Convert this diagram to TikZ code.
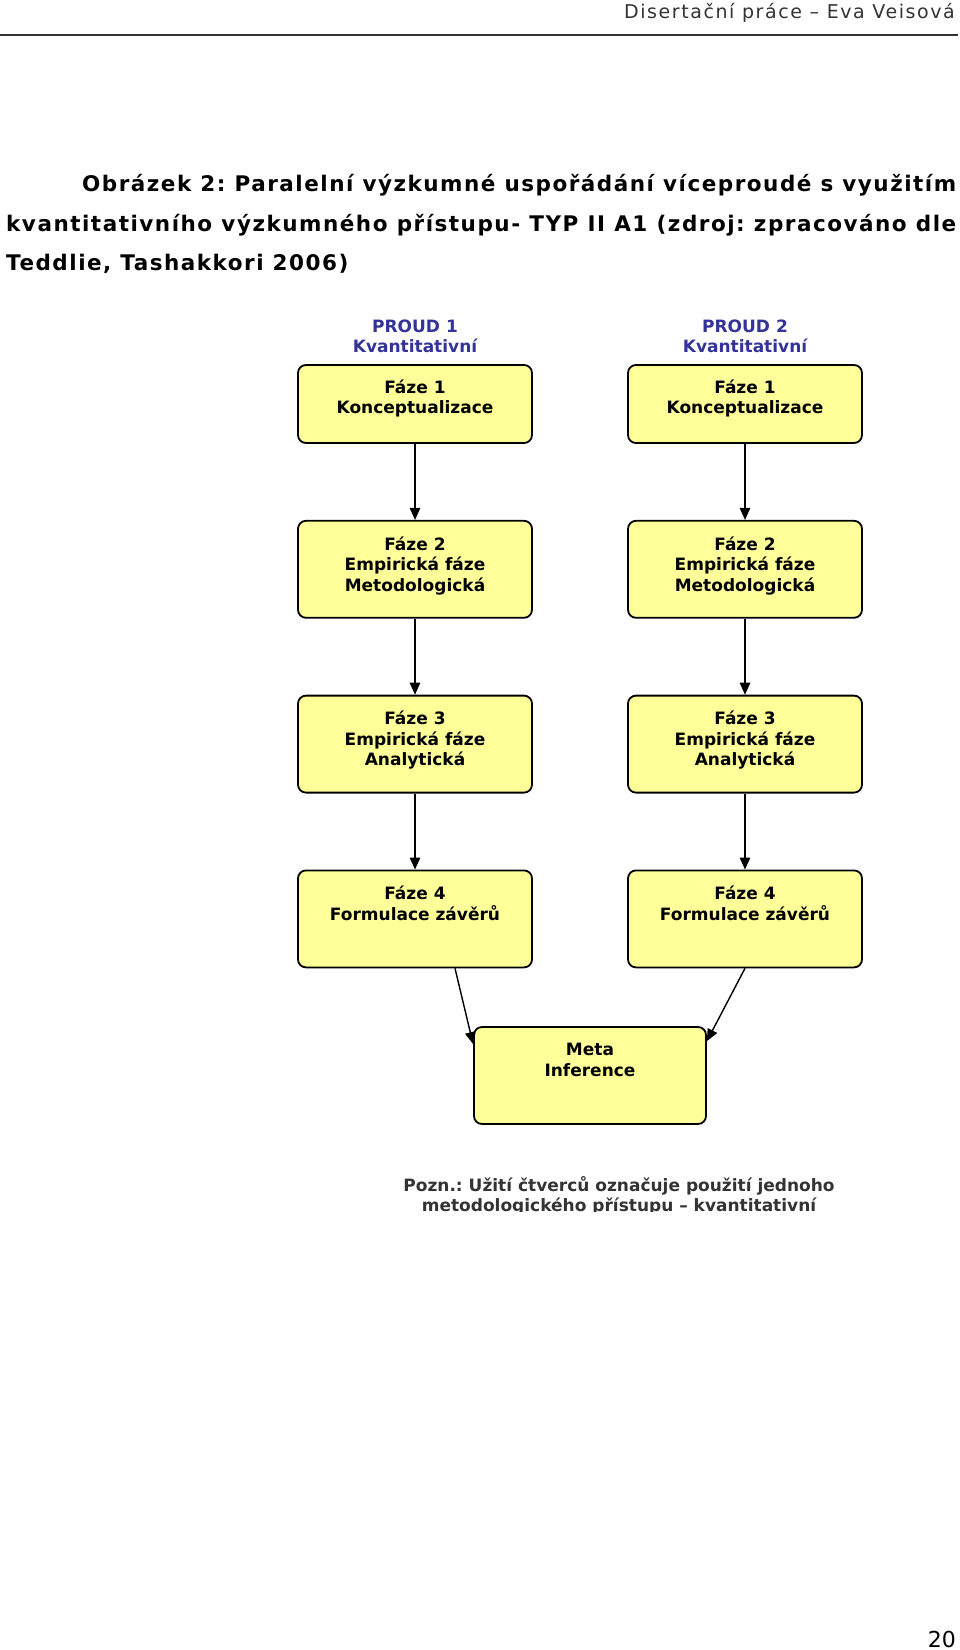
\documentclass[tikz,border=0pt]{standalone}
\usepackage{fontspec}
\setmainfont{DejaVu Sans}
\usetikzlibrary{shapes.geometric, arrows.meta, positioning}
\definecolor{boxyellow}{HTML}{FFFF99}
\definecolor{proudblue}{HTML}{333399}
\definecolor{textgray}{HTML}{333333}
\tikzstyle{faze} = [rectangle, rounded corners=8pt, minimum width=234pt, minimum height=97pt, text depth=11pt, align=center, draw=black, line width=1.8pt, fill=boxyellow, font=\bfseries\fontsize{17}{20.5}\selectfont]
\tikzstyle{dvoradek} = [text depth=31.5pt]
\tikzstyle{proud} = [align=center, text=proudblue, font=\bfseries\fontsize{17}{20}\selectfont]
\tikzstyle{titleline} = [anchor=base west, inner sep=0pt, font=\bfseries\fontsize{21.5}{24}\selectfont\addfontfeatures{LetterSpace=7}]
\tikzstyle{arrow} = [line width=1.4pt, -{Triangle[length=12pt,width=10.5pt]}]

\begin{document}
\frenchspacing
\begin{tikzpicture}[x=1pt, y=-1pt, node distance=76pt]
    \fill[white] (0,0) rectangle (960,1650);
    \useasboundingbox (0,0) rectangle (960,1650);

    % Hlavička
    \node (header) [anchor=base east, inner sep=0pt, text=textgray, font=\fontsize{19}{22}\selectfont\addfontfeatures{LetterSpace=8.3}] at (955,18) {Disertační práce – Eva Veisová};
    \draw [textgray, line width=1.8pt] (0,35) -- (958,35);

    % Nadpis
    \node (title1) [titleline] at (82,191) {\makebox[874pt][s]{Obrázek 2: Paralelní výzkumné uspořádání víceproudé s využitím}};
    \node (title2) [titleline] at (6,231) {\makebox[950pt][s]{kvantitativního výzkumného přístupu- TYP II A1 (zdroj: zpracováno dle}};
    \node (title3) [titleline] at (6,270) {Teddlie, Tashakkori 2006)};

    % Proud 1
    \node (p1f1) [faze, minimum height=78pt, text depth=14.5pt] at (415,404) {Fáze 1\\Konceptualizace};
    \node (p1f2) [faze, below=of p1f1] {Fáze 2\\Empirická fáze\\Metodologická};
    \node (p1f3) [faze, below=of p1f2] {Fáze 3\\Empirická fáze\\Analytická};
    \node (p1f4) [faze, dvoradek, below=of p1f3] {Fáze 4\\Formulace závěrů};
    \node (proud1) [proud, above=8pt of p1f1] {PROUD 1\\Kvantitativní};

    % Proud 2
    \node (p2f1) [faze, minimum height=78pt, text depth=14.5pt] at (745,404) {Fáze 1\\Konceptualizace};
    \node (p2f2) [faze, below=of p2f1] {Fáze 2\\Empirická fáze\\Metodologická};
    \node (p2f3) [faze, below=of p2f2] {Fáze 3\\Empirická fáze\\Analytická};
    \node (p2f4) [faze, dvoradek, below=of p2f3] {Fáze 4\\Formulace závěrů};
    \node (proud2) [proud, above=8pt of p2f1] {PROUD 2\\Kvantitativní};

    \node (meta) [faze, dvoradek, minimum width=232pt] at (590,1075.5) {Meta\\Inference};

    % Šipky
    \draw [arrow] (p1f1) -- (p1f2);
    \draw [arrow] (p1f2) -- (p1f3);
    \draw [arrow] (p1f3) -- (p1f4);
    \draw [arrow] (p2f1) -- (p2f2);
    \draw [arrow] (p2f2) -- (p2f3);
    \draw [arrow] (p2f3) -- (p2f4);
    \draw [arrow] ([xshift=40pt]p1f4.south) -- ([yshift=-18pt]meta.north west);
    \draw [arrow] (p2f4.south) -- ([yshift=-15pt]meta.north east);

    % Poznámka
    \begin{scope}
        \clip (0,0) rectangle (960,1211);
        \node (pozn) [align=center, text=textgray, font=\bfseries\fontsize{17}{20}\selectfont] at (619,1196) {Pozn.: Užití čtverců označuje použití jednoho\\metodologického přístupu – kvantitativní};
    \end{scope}

    \node (pagenum) [anchor=base east, inner sep=0pt, font=\fontsize{22}{26}\selectfont] at (956,1647) {20};

\end{tikzpicture}
\end{document}
